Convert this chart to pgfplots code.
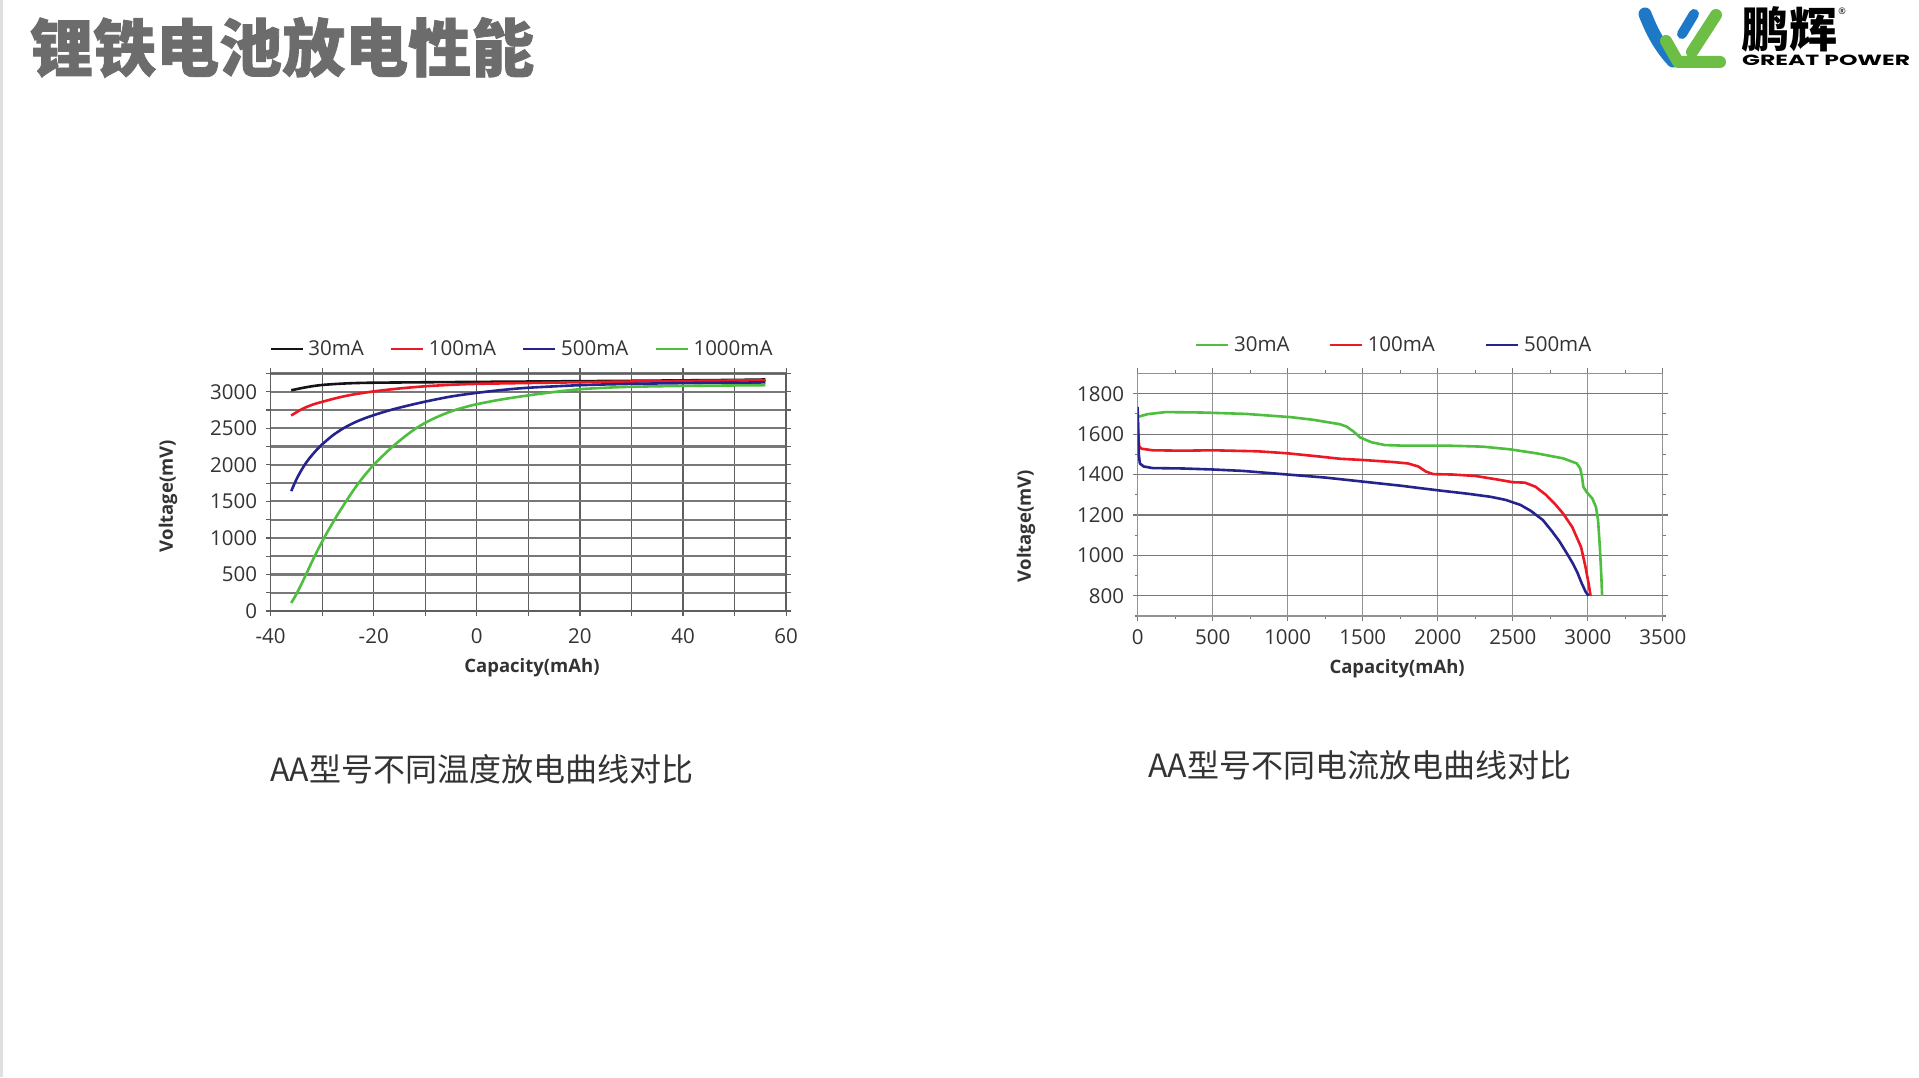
\documentclass[border=0pt]{standalone}
\usepackage{fontspec}
\setmainfont{Open Sans}
\newfontfamily\cjk{Noto Sans CJK SC}
\newfontfamily\cjkheavy{Noto Sans CJK SC}[BoldFeatures={FakeBold=1.2}]
\newfontfamily\logofont{Poppins}
\usepackage{graphicx}
\usepackage{pgfplots}
\pgfplotsset{compat=1.18}
\definecolor{cred}{RGB}{236,24,36}
\definecolor{cblue}{RGB}{36,36,140}
\definecolor{cgreen}{RGB}{78,190,62}
\definecolor{cblack}{RGB}{20,20,20}
\definecolor{titlegray}{RGB}{108,108,108}
\definecolor{txt}{RGB}{51,51,51}
\definecolor{gridA}{RGB}{120,120,120}
\definecolor{gridB}{RGB}{95,95,95}
\definecolor{lightband}{RGB}{195,195,195}
\definecolor{logoblue}{RGB}{30,120,200}
\definecolor{logogreen}{RGB}{108,190,69}
\begin{document}
\begin{tikzpicture}[x=1pt,y=1pt]
\fill[white] (0,0) rectangle (1919,1077);
\path[use as bounding box] (0,0) rectangle (1919,1077);
\fill[gray!25] (0,0) rectangle (3,1077);
% title
\node[anchor=west, text=titlegray, inner sep=0pt] at (30,1029.5) {\fontsize{63}{68}\selectfont\cjkheavy\bfseries 锂铁电池放电性能};
% logo
\draw[logoblue, line width=13pt, line cap=round] (1645,1063) .. controls (1652,1045) and (1660,1030) .. (1673,1016);
\draw[logoblue, line width=10pt, line cap=round] (1694,1063) -- (1682,1043);
\draw[logogreen, line width=12pt, line cap=round, line join=round] (1666,1036) -- (1678,1015) -- (1720,1015);
\draw[logogreen, line width=12pt, line cap=round] (1716,1062) -- (1692,1025);
\node[anchor=west, inner sep=0pt] at (1741,1048) {\fontsize{48}{50}\selectfont\cjk\bfseries 鹏辉};
\node[inner sep=0pt] at (1842,1066) {\fontsize{9}{10}\selectfont ®};
\node[anchor=west, inner sep=0pt] at (1742,1017) {\resizebox{168pt}{10.5pt}{\logofont\bfseries GREAT POWER}};
% captions
\node[text=txt] at (481.7,308) {\fontsize{32}{36}\selectfont\cjk AA型号不同温度放电曲线对比};
\node[text=txt] at (1360,312) {\fontsize{32}{36}\selectfont\cjk AA型号不同电流放电曲线对比};

% ---------- left chart ----------
\begin{axis}[
  at={(270.6pt,466pt)}, anchor=south west, scale only axis,
  width=515.5pt, height=237.5pt,
  xmin=-40, xmax=60, ymin=0, ymax=3250,
  xtick={-40,-20,0,20,40,60}, xticklabels={-40,-20,0,20,40,60},
  minor xtick={-30,-10,10,30,50},
  ytick={0,500,1000,1500,2000,2500,3000},
  yticklabels={0,500,1000,1500,2000,2500,3000},
  minor ytick={250,750,1250,1750,2250,2750,3250},
  grid=both,
  x grid style={color=gridB, line width=1.2pt},
  y grid style={color=gridA, line width=2.2pt},
  tick align=outside, major tick length=5pt, minor tick length=5pt,
  every tick/.style={gridB, line width=1.2pt},
  axis line style={draw=gridB, line width=1.3pt},
  tick label style={font=\fontsize{20.5}{22}\selectfont, text=txt},
  xticklabel style={yshift=-9pt},
  yticklabel style={xshift=-5pt},
  xlabel={\bfseries Capacity(mAh)}, ylabel={\bfseries Voltage(mV)},
  label style={font=\fontsize{18.5}{20}\selectfont, text=txt},
  xlabel style={at={(axis description cs:0.507,-0.24)}, anchor=center},
  ylabel style={at={(axis description cs:-0.199,0.484)}, anchor=center, rotate=0},
  legend columns=4,
  legend style={draw=none, fill=none, at={(axis description cs:-0.003,1.103)}, anchor=west, inner sep=0pt,
    font=\fontsize{20.5}{22}\selectfont, text=txt,
    /tikz/every even column/.append style={column sep=24pt}},
  legend image code/.code={\draw[#1, line width=2.6pt] (0pt,0pt) -- (32pt,0pt); \path (34.5pt,0pt);},
  every axis plot/.append style={line width=2.6pt, smooth},
]
\addplot[cblack] coordinates {(-36,3020) (-34,3050) (-32,3075) (-30,3093) (-27,3108) (-24,3118) (-20,3124) (-10,3130) (0,3135) (10,3140) (20,3145) (30,3150) (40,3156) (50,3162) (56,3168)};
\addplot[cred] coordinates {(-36,2675) (-34,2760) (-32,2820) (-30,2862) (-27,2918) (-24,2962) (-20,3005) (-15,3045) (-10,3075) (-5,3095) (0,3108) (10,3120) (20,3130) (30,3140) (40,3148) (56,3158)};
\addplot[cblue] coordinates {(-36,1640) (-35,1800) (-34,1930) (-33,2040) (-32,2130) (-31,2210) (-30,2280) (-28,2400) (-26,2495) (-24,2570) (-22,2630) (-20,2680) (-17,2745) (-14,2800) (-10,2865) (-5,2935) (0,2985) (5,3025) (10,3055) (20,3090) (30,3108) (40,3118) (56,3128)};
\addplot[cgreen] coordinates {(-36,110) (-35,230) (-34,370) (-33,520) (-32,670) (-31,815) (-30,950) (-29,1080) (-28,1200) (-27,1320) (-26,1430) (-25,1540) (-24,1645) (-23,1745) (-22,1835) (-21,1920) (-20,2000) (-18,2140) (-16,2270) (-14,2385) (-12,2490) (-10,2575) (-8,2645) (-6,2705) (-4,2755) (-2,2795) (0,2830) (4,2885) (8,2930) (12,2970) (16,3005) (20,3035) (25,3055) (30,3068) (40,3080) (56,3090)};
\legend{30mA,100mA,500mA,1000mA}
\end{axis}

% ---------- right chart ----------
\begin{axis}[
  at={(1137.6pt,461pt)}, anchor=south west, scale only axis,
  width=525.3pt, height=242.5pt,
  xmin=0, xmax=3500, ymin=700, ymax=1900,
  xtick={0,500,1000,1500,2000,2500,3000,3500},
  xticklabels={0,500,1000,1500,2000,2500,3000,3500},
  minor xtick={250,750,1250,1750,2250,2750,3250},
  ytick={1000,1200,1800}, yticklabels={1000,1200,1800},
  extra y ticks={800,1400,1600}, extra y tick labels={800,1400,1600},
  extra y tick style={major grid style={color=lightband, line width=3pt}},
  minor ytick={700,900,1100,1300,1500,1700},
  xmajorgrids, ymajorgrids,
  x grid style={color=gridA!80, line width=1.1pt},
  y grid style={color=gridA, line width=1.1pt},
  tick align=outside, major tick length=5pt, minor tick length=3pt,
  every tick/.style={gridA, line width=1.1pt},
  axis line style={draw=gridA!80, line width=1.1pt},
  tick label style={font=\fontsize{20.5}{22}\selectfont, text=txt},
  xticklabel style={yshift=-5.5pt},
  yticklabel style={xshift=-5pt},
  xlabel={\bfseries Capacity(mAh)}, ylabel={\bfseries Voltage(mV)},
  label style={font=\fontsize{18.5}{20}\selectfont, text=txt},
  xlabel style={at={(axis description cs:0.494,-0.217)}, anchor=center},
  ylabel style={at={(axis description cs:-0.2125,0.371)}, anchor=center, rotate=0},
  legend columns=3,
  legend style={draw=none, fill=none, at={(axis description cs:0.109,1.1175)}, anchor=west, inner sep=0pt,
    font=\fontsize{20.5}{22}\selectfont, text=txt,
    /tikz/every even column/.append style={column sep=37pt}},
  legend image code/.code={\draw[#1, line width=2.6pt] (0pt,0pt) -- (32pt,0pt); \path (34.5pt,0pt);},
  every axis plot/.append style={line width=2.6pt, line join=round},
]
\addplot[cgreen] coordinates {(9,1687) (68,1699) (188,1709) (425,1707) (723,1700) (1021,1684) (1170,1671) (1348,1649) (1393,1637) (1438,1613) (1482,1584) (1557,1560) (1646,1546) (1765,1543) (2062,1543) (2300,1538) (2479,1525) (2658,1505) (2836,1480) (2926,1455) (2949,1430) (2961,1389) (2970,1339) (2991,1314) (3030,1281) (3054,1239) (3068,1173) (3080,1040) (3089,908) (3095,800)};
\addplot[cred] coordinates {(0,1700) (5,1600) (10,1540) (25,1528) (100,1520) (300,1518) (500,1520) (800,1515) (1000,1505) (1200,1490) (1350,1478) (1500,1472) (1700,1462) (1800,1455) (1870,1440) (1920,1415) (1970,1402) (2100,1400) (2250,1393) (2400,1375) (2500,1362) (2580,1360) (2650,1340) (2720,1300) (2780,1255) (2836,1206) (2896,1140) (2955,1040) (2985,940) (3005,860) (3018,800)};
\addplot[cblue] coordinates {(0,1735) (4,1600) (8,1500) (15,1455) (40,1440) (100,1432) (300,1430) (500,1425) (700,1418) (1000,1400) (1250,1385) (1500,1365) (1750,1345) (2000,1322) (2200,1305) (2350,1290) (2450,1275) (2550,1250) (2620,1220) (2700,1175) (2760,1120) (2810,1070) (2860,1010) (2900,960) (2930,915) (2960,860) (2985,820) (3005,800)};
\legend{30mA,100mA\rule{11pt}{0pt},500mA}
\end{axis}
\end{tikzpicture}
\end{document}
